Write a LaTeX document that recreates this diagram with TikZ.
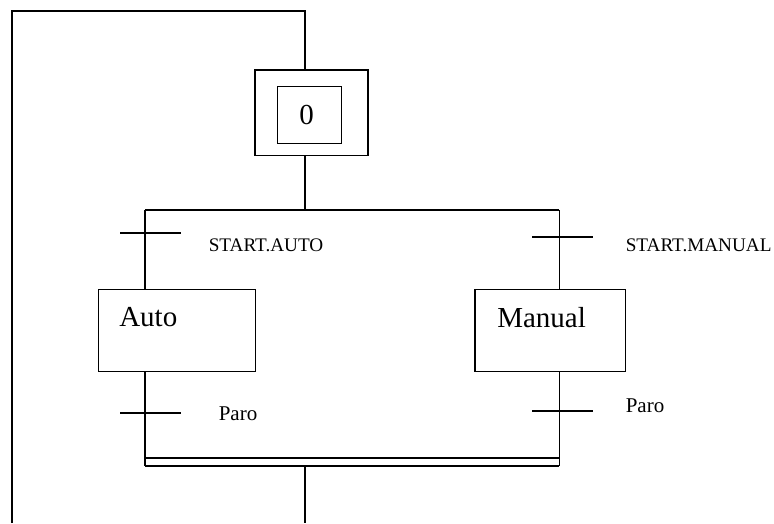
\documentclass[tikz,border=0pt]{standalone}
\usepackage{fontspec}
\setmainfont{Liberation Serif}
\begin{document}
\begin{tikzpicture}[x=1pt, y=-1pt, line width=1.6pt,
  stepbox/.style={draw, rectangle, line width=1.3pt, inner sep=0pt, minimum width=#1},
  bigtext/.style={inner sep=0pt, anchor=west, font=\fontsize{29}{33}\selectfont},
  cond/.style={inner sep=0pt, anchor=west, font=\fontsize{19.2}{22}\selectfont},
  paro/.style={inner sep=0pt, anchor=west, font=\fontsize{21}{24}\selectfont},
  tick/.style={line width=1.6pt}]
\useasboundingbox (0,0) rectangle (774,523);

% initial step 0 (double frame)
\node[stepbox=113pt, minimum height=85.7pt] (s0out) at (311.5,112.9) {};
\node[stepbox=63.6pt, minimum height=57pt] (s0in) at (309.5,114.8) {};
\node[bigtext] (s0lbl) at (298.5,114.7) {0};

% steps Auto and Manual
\node[stepbox=157.4pt, minimum height=82.4pt] (auto) at (177,330.5) {};
\node[bigtext] (autolbl) at (118.5,317.5) {Auto};
\node[stepbox=150.3pt, minimum height=82.4pt] (manual) at (550.2,330.5) {};
\node[bigtext] (manuallbl) at (496.5,317.5) {Manual};

% key points of the structure
\coordinate (topL) at (12,10.7);
\coordinate (topR) at (304.7,10.7);
\coordinate (botL) at (12,523);
\coordinate (divL) at (145,210);
\coordinate (divR) at (559.3,210);
\coordinate (divM) at (304.7,210);
\coordinate (convL) at (145,465.7);
\coordinate (convR) at (559.3,465.7);
\coordinate (convLi) at (145,457.7);
\coordinate (convRi) at (559.3,457.7);
\coordinate (outM) at (305,465.7);
\coordinate (outEnd) at (305,523);

% loop back to the initial step
\draw (botL) -- (topL) -- (topR) -- (topR |- s0out.north);
\draw (divM |- s0out.south) -- (divM);

% selection divergence
\draw (divL) -- (divR);
\draw (divL) -- (divL |- auto.north);
\draw (divR) -- (divR |- manual.north);

% transitions after the divergence
\draw[tick] (120,233) -- (180.7,233);
\node[cond] (c1) at (208,245.3) {START.AUTO};
\draw[tick] (532,236.7) -- (592.7,236.7);
\node[cond] (c2) at (625,245.3) {START.MANUAL};

% branches down to the convergence
\draw (divL |- auto.south) -- (convL);
\draw (divR |- manual.south) -- (convR);
\draw[tick] (120,412.7) -- (180.7,412.7);
\node[paro] (c3) at (218,413.3) {Paro};
\draw[tick] (532,410.7) -- (592.7,410.7);
\node[paro] (c4) at (625,405.8) {Paro};

% double convergence line and exit
\draw (convLi) -- (convRi);
\draw (convL) -- (convR);
\draw (outM) -- (outEnd);
\end{tikzpicture}
\end{document}
